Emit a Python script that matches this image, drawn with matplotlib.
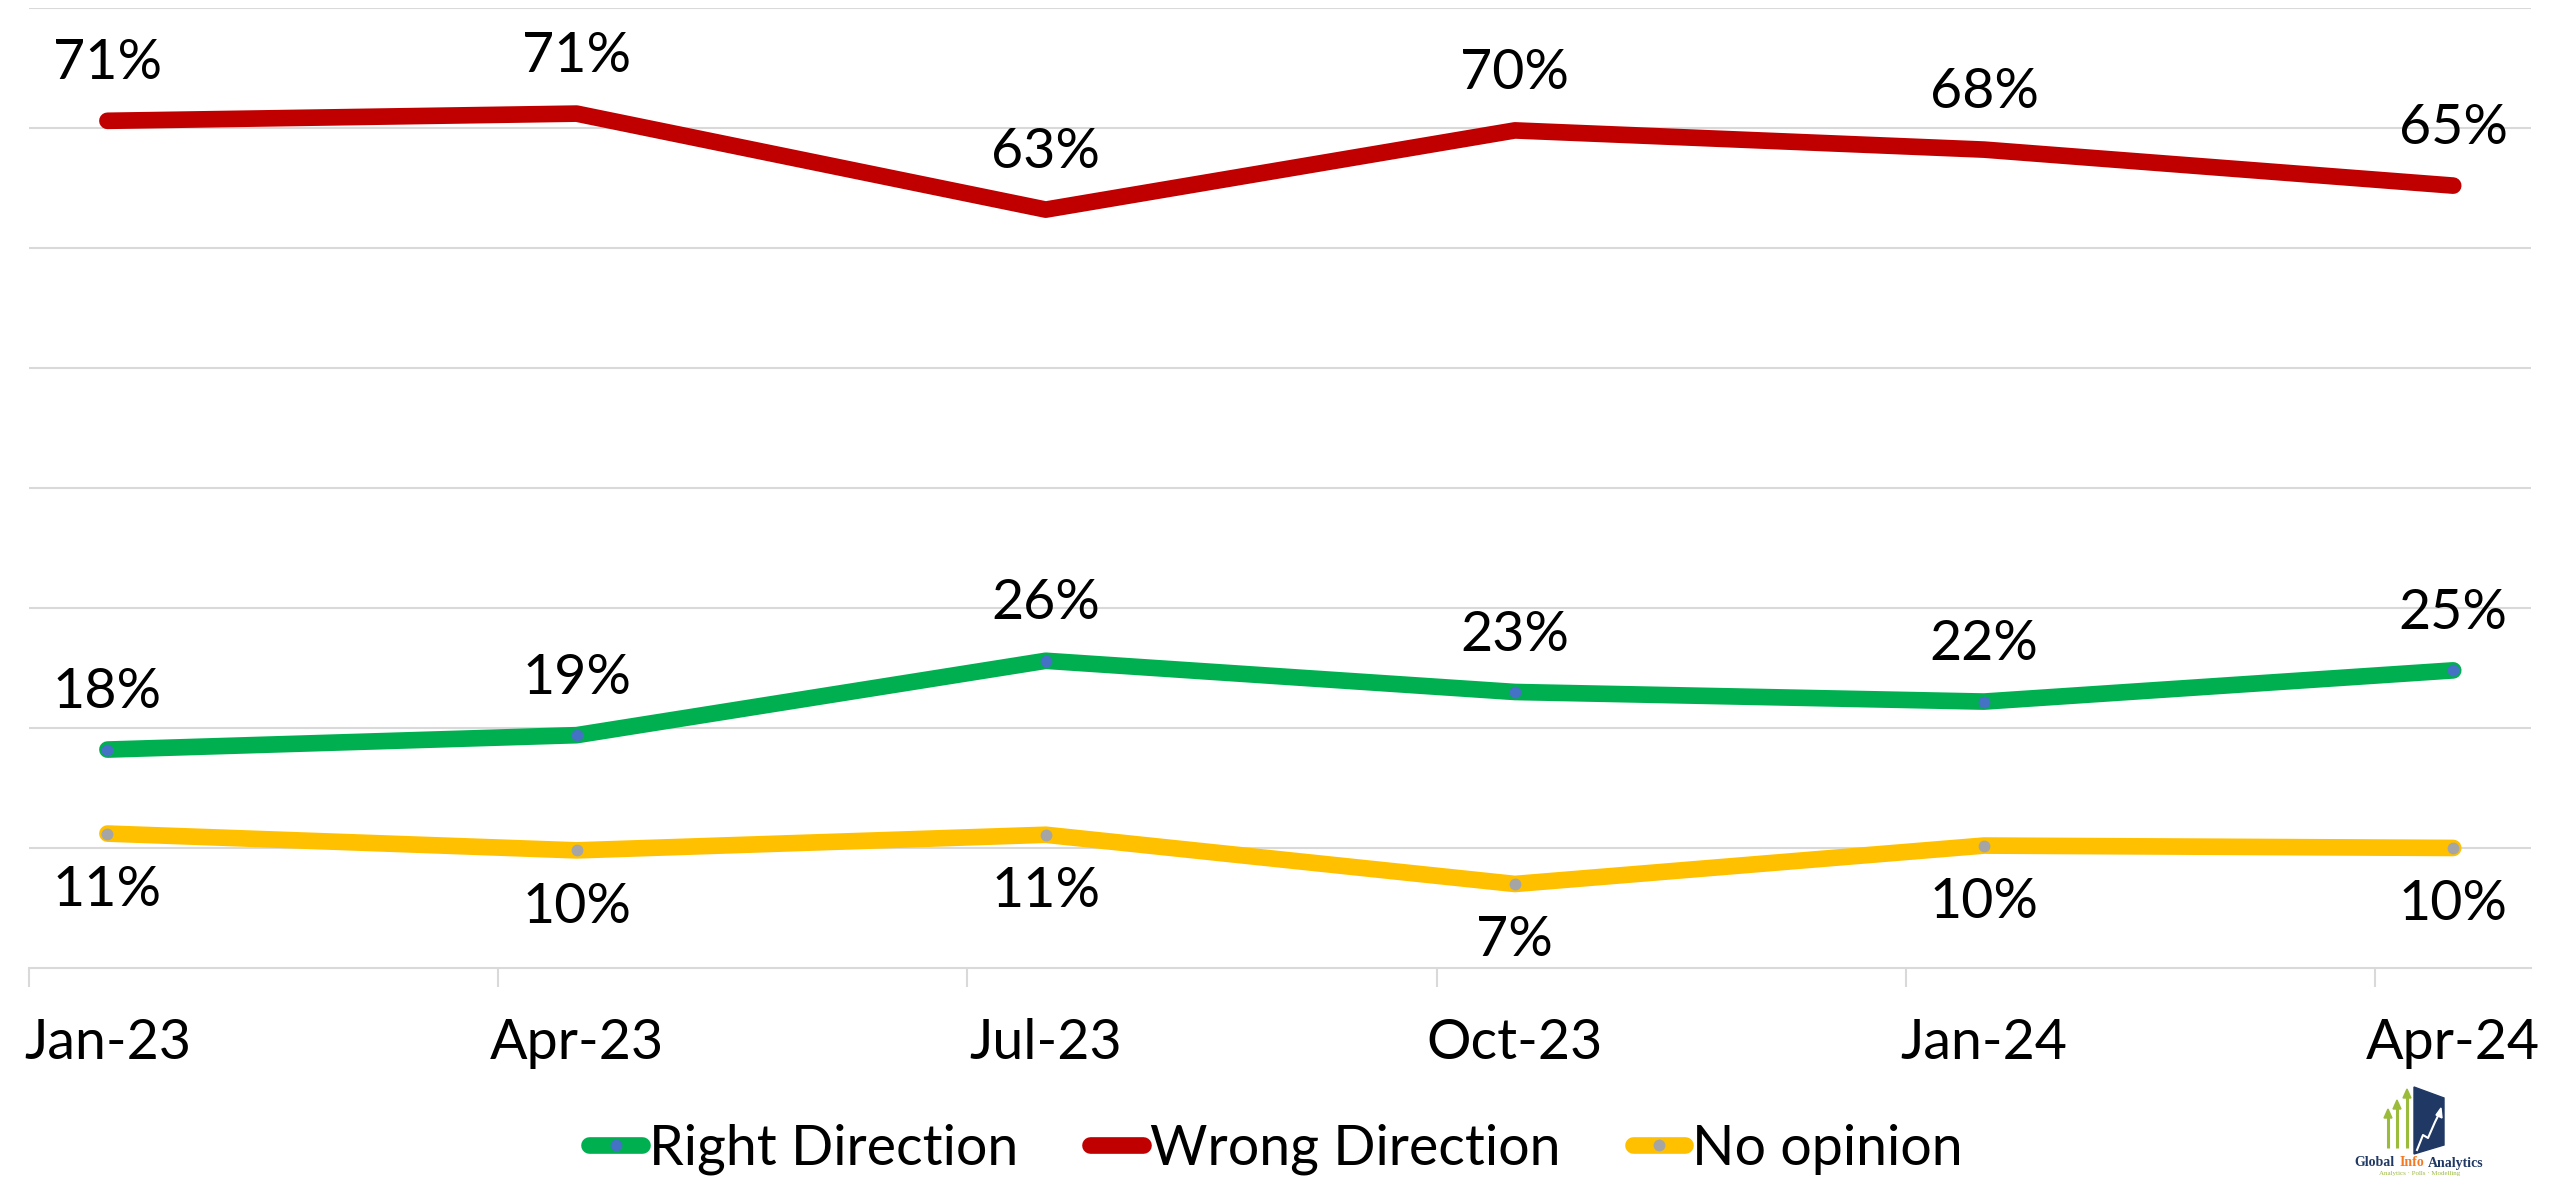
import matplotlib.pyplot as plt
from matplotlib.patches import Polygon
import numpy as np

# survey waves
months = ["Jan-23", "Apr-23", "Jul-23", "Oct-23", "Jan-24", "Apr-24"]
right_direction = [0.182, 0.194, 0.256, 0.230, 0.222, 0.248]
wrong_direction = [0.706, 0.712, 0.632, 0.698, 0.682, 0.652]
no_opinion = [0.112, 0.098, 0.111, 0.070, 0.102, 0.100]

plt.rcParams['font.family'] = ['Lato', 'DejaVu Sans']

fig = plt.figure(figsize=(25.52, 11.79), dpi=100)
ax = fig.add_axes([0.0114, 0.179, 0.9804, 0.8142])
x = np.arange(len(months))

grid_col = "#D9D9D9"
series = [
    ("Right Direction", right_direction, "#00B050", "#4472C4", 1),
    ("Wrong Direction", wrong_direction, "#C00000", "#C00000", 1),
    ("No opinion", no_opinion, "#FFC000", "#A5A5A5", -1),
]
for name, vals, color, mcol, side in series:
    ax.plot(x, vals, color=color, lw=12, solid_capstyle='round',
            solid_joinstyle='round', marker='o', ms=7.5, mfc=mcol, mec=mcol,
            label=name, zorder=3)
    for xi, v in zip(x, vals):
        ax.annotate(f"{round(v * 100):.0f}%", (xi, v), xytext=(0, 41 * side),
                    textcoords='offset points', ha='center', va='center',
                    fontsize=40, color='black')

ax.set_ylim(0, 0.8)
ax.set_xlim(-0.167, 5.166)
ax.set_yticks(np.arange(0.1, 0.81, 0.1))
ax.yaxis.grid(True, color=grid_col, lw=1.5)
ax.tick_params(axis='y', length=0, labelleft=False)
ax.set_axisbelow(True)

ax.set_xticks(x, months)
ax.set_xticks(x - 0.167, minor=True)
ax.tick_params(axis='x', which='major', length=0, pad=36, labelsize=40)
ax.tick_params(axis='x', which='minor', length=14, width=1.5, color=grid_col)

for s in ['left', 'right', 'top']:
    ax.spines[s].set_visible(False)
ax.spines['bottom'].set_color(grid_col)
ax.spines['bottom'].set_linewidth(1.5)

fig.legend(loc='center', bbox_to_anchor=(0.500, 0.025), ncol=3, frameon=False,
           fontsize=40, handlelength=0.95, handletextpad=0.12, columnspacing=1.3,
           numpoints=1)

# logo in bottom-right corner (pixel coordinates)
lg = fig.add_axes([2350 / 2552, 0, 160 / 2552, 100 / 1179])
lg.set_xlim(2350, 2510)
lg.set_ylim(1179, 1079)
lg.axis('off')
lime = "#9BBB3B"
for ax_x, top in [(2388, 1111), (2397, 1102), (2407, 1091)]:
    lg.plot([ax_x, ax_x], [1148, top + 5], color=lime, lw=2.2, solid_capstyle='butt')
    lg.add_patch(Polygon([[ax_x - 4, top + 7], [ax_x + 4, top + 7], [ax_x, top - 2]],
                         closed=True, color=lime))
lg.add_patch(Polygon([[2414, 1087], [2444, 1098], [2444, 1145], [2414, 1154]],
                     closed=True, color="#1F3864"))
lg.plot([2417, 2423, 2428, 2435, 2439], [1150, 1135, 1138, 1122, 1114],
        color='white', lw=1.5)
lg.add_patch(Polygon([[2436, 1115], [2442, 1118], [2441, 1108]], closed=True, color='white'))
logo_font = dict(family=['Liberation Serif'], weight='bold', fontsize=10, va='center')
lg.text(2354, 1163, "Global", color="#1F3864", **logo_font)
lg.text(2400, 1163, "Info", color="#F47920", **logo_font)
lg.text(2428, 1163, "Analytics", color="#1F3864", **logo_font)
lg.text(2420, 1171, "Analytics · Polls · Modelling", color=lime, ha='center',
        va='top', fontsize=5, family=['Liberation Serif'])

fig.savefig("out.png", dpi=100)
